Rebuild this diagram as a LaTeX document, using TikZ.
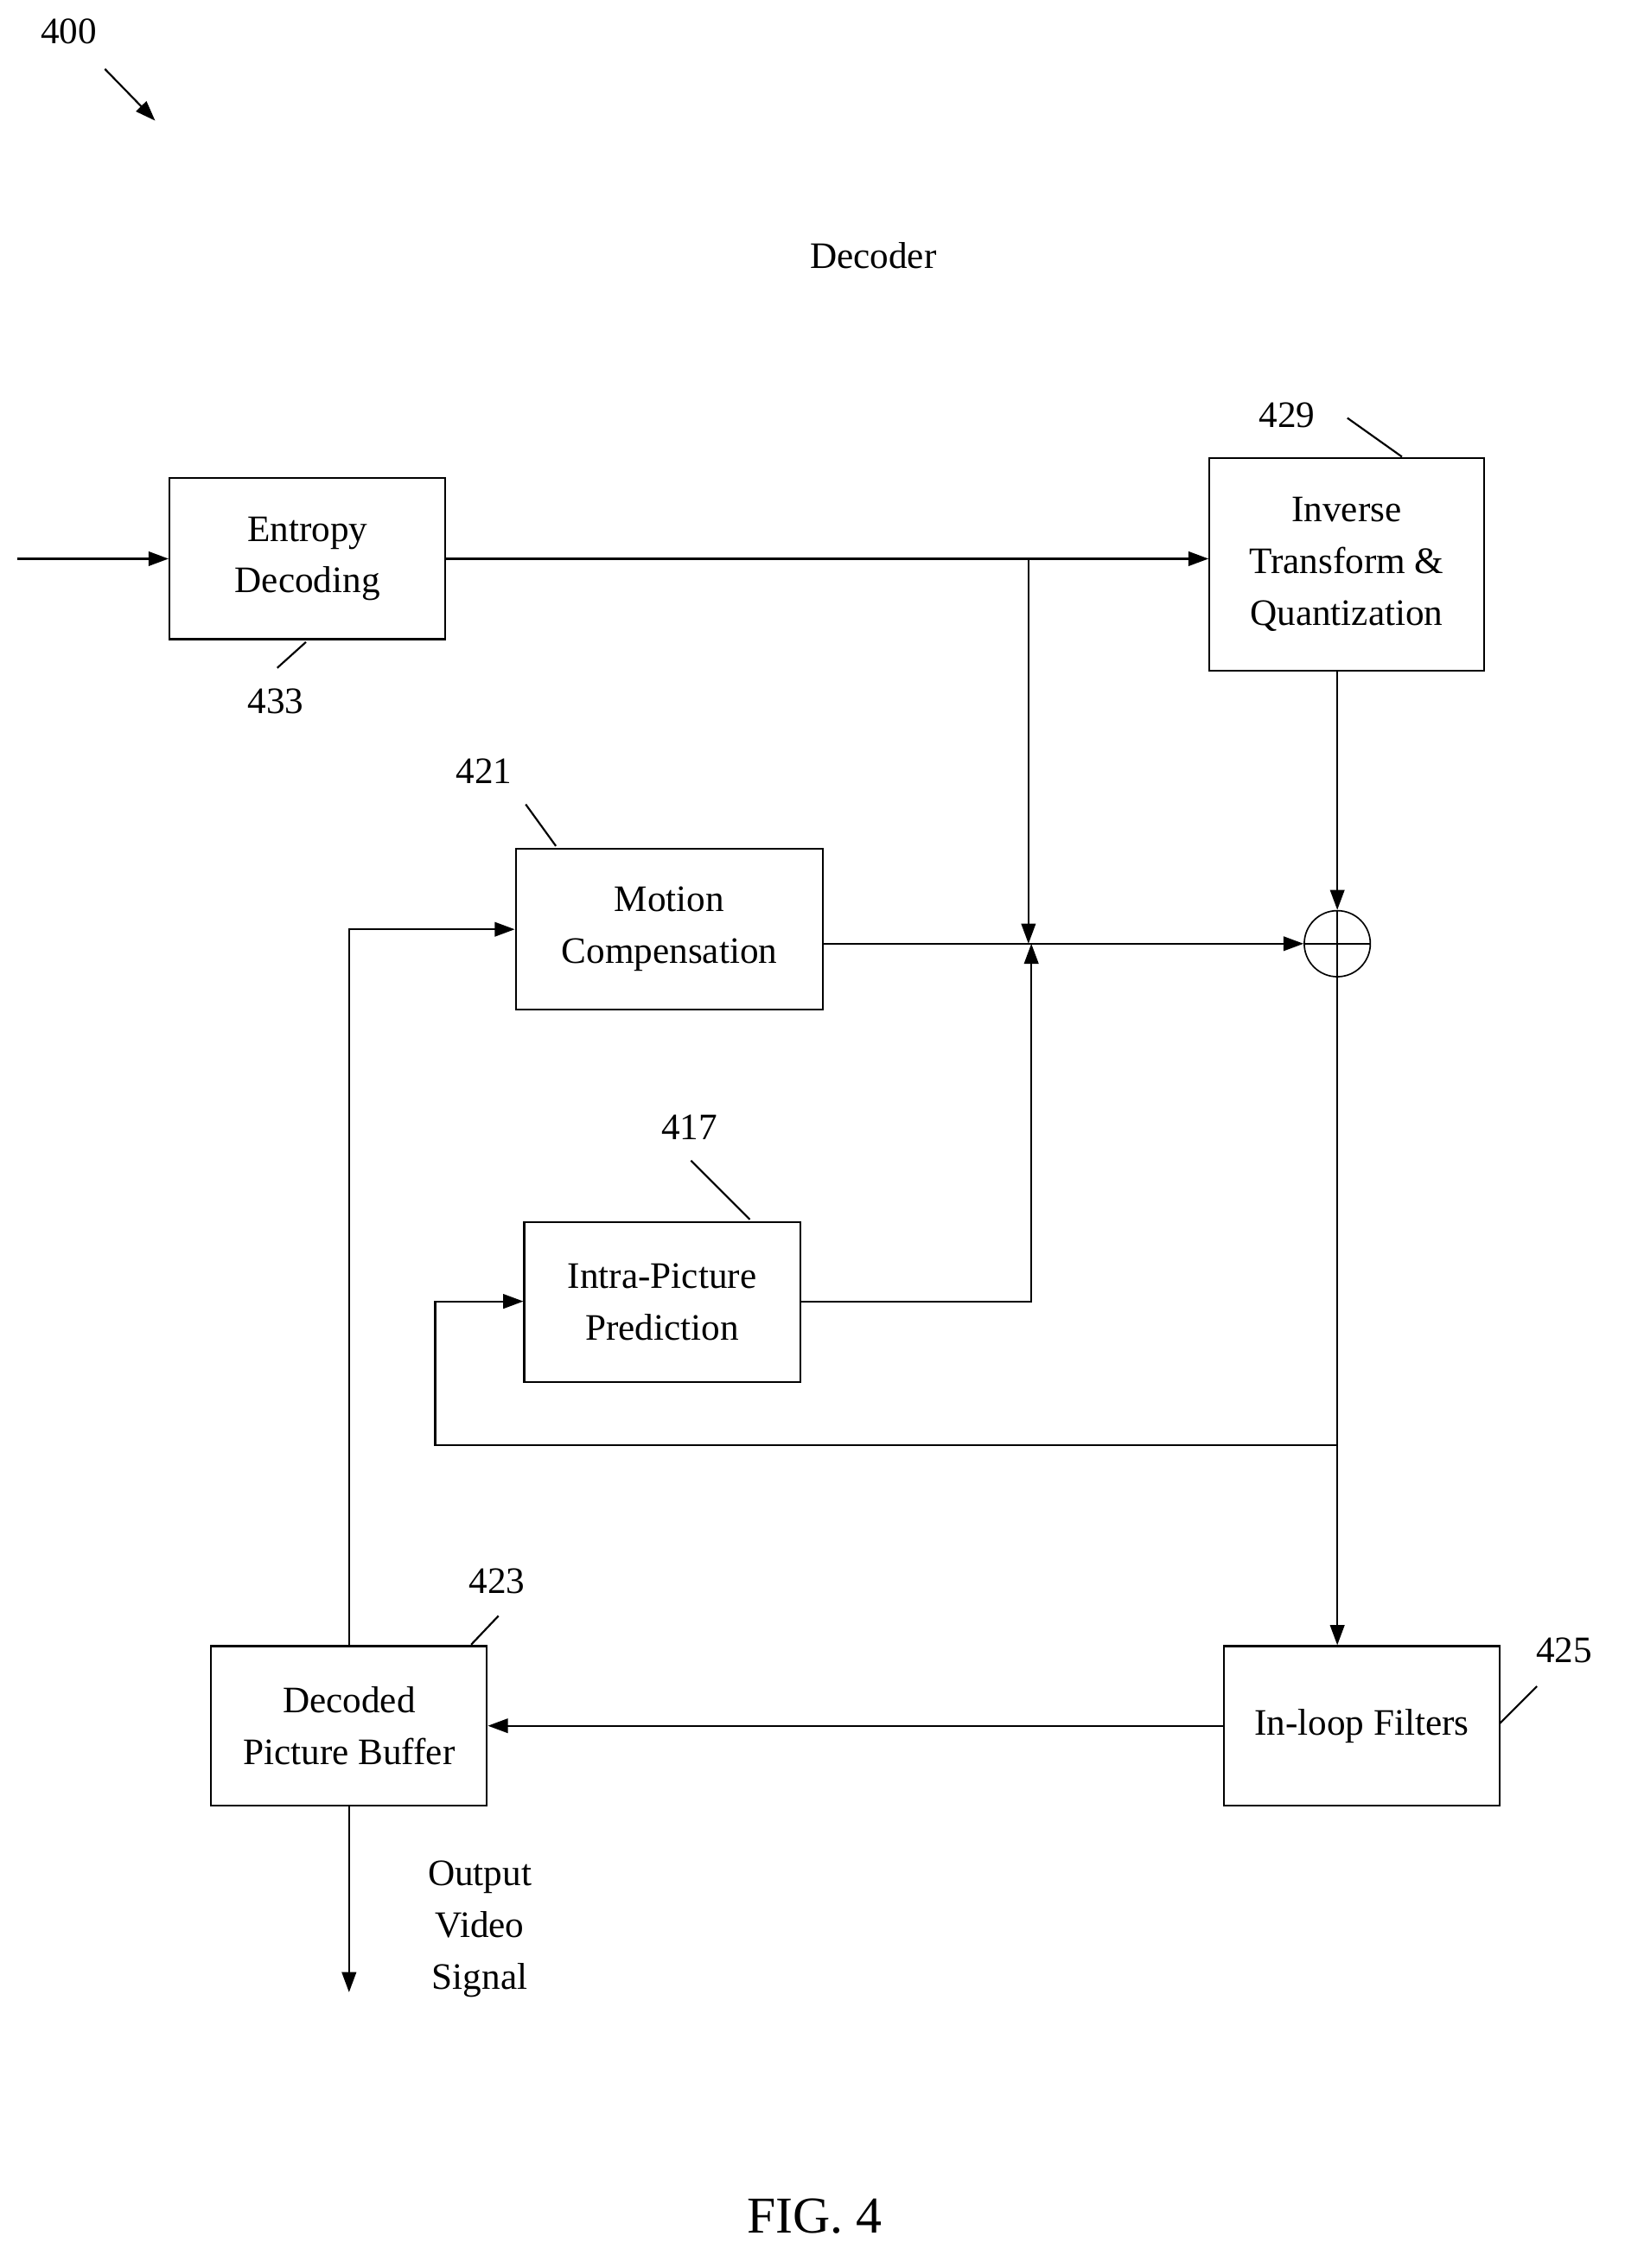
\documentclass[tikz,border=0pt]{standalone}
\usepackage{fontspec}
\setmainfont{Liberation Serif}
\usetikzlibrary{arrows.meta}
\begin{document}
\begin{tikzpicture}[x=1pt,y=-1pt,
  box/.style={draw,line width=1.3pt,inner sep=0pt,align=center,font=\fontsize{26}{36}\selectfont},
  lbl/.style={font=\fontsize{26}{30}\selectfont,inner sep=0pt},
  ln/.style={line width=1.3pt},
  ar/.style={ln,-{Triangle[length=14pt,width=10pt]}}]
\useasboundingbox (0,0) rectangle (1131,1579);
\node[box,minimum width=192pt,minimum height=112pt] (ent) at (214,389) {Entropy\\Decoding};
\node[box,minimum width=191pt,minimum height=148pt] (inv) at (937.5,393) {Inverse\\Transform \&\\Quantization};
\node[box,minimum width=214pt,minimum height=112pt] (mc) at (466,647) {Motion\\Compensation};
\node[box,minimum width=192pt,minimum height=111pt] (ip) at (461,906.5) {Intra-Picture\\Prediction};
\node[box,minimum width=192pt,minimum height=111pt] (ilf) at (948,1201.5) {In-loop Filters};
\node[box,minimum width=192pt,minimum height=111pt] (dpb) at (243,1201.5) {Decoded\\Picture Buffer};
\node[draw,circle,line width=1pt,minimum size=46pt,inner sep=0pt] (add) at (931,657) {};
\draw[line width=1pt] (add.north)--(add.south) (add.west)--(add.east);
\coordinate (in) at (12,389);
\coordinate (j1) at (716,389);
\coordinate (j2) at (716,657);
\coordinate (ipc) at (718,906);
\coordinate (b1) at (931,1006);
\coordinate (b2) at (303,1006);
\coordinate (b3) at (303,906);
\coordinate (d1) at (243,647);
\coordinate (out) at (243,1387);
\draw[ar] (in)--(ent.west);
\draw[ar] (ent.east |- in)--(inv.west |- in);
\draw[ar] (j1)--(j2);
\draw[ar] (mc.east |- j2)--(add.west);
\draw[ar] (ip.east |- ipc)--(ipc)--(718,657);
\draw[ar] (inv.south -| add)--(add.north);
\draw[ar] (add.south)--(ilf.north -| add);
\draw[ar] (b1)--(b2)--(b3)--(ip.west |- b3);
\draw[ar] (ilf.west)--(dpb.east);
\draw[ar] (dpb.north)--(d1)--(mc.west |- d1);
\draw[ar] (dpb.south)--(out);
\node[align=center,font=\fontsize{26}{36}\selectfont] (ovs) at (334,1343) {Output\\Video\\Signal};
\node[lbl] (n400) at (48,22) {400};
\coordinate (a1) at (73,48); \coordinate (a2) at (108,84);
\draw[ar] (a1)--(a2);
\node[lbl] (dec) at (608,178) {Decoder};
\node[lbl] (n429) at (896,289) {429}; \draw[ln] (938,291)--(976,318);
\node[lbl] (n433) at (192,488) {433}; \draw[ln] (193,465)--(213,447);
\node[lbl] (n421) at (337,537) {421}; \draw[ln] (366,560)--(387,589);
\node[lbl] (n417) at (480,785) {417}; \draw[ln] (481,808)--(522,849);
\node[lbl] (n423) at (346,1101) {423}; \draw[ln] (347,1125)--(328,1145);
\node[lbl] (n425) at (1089,1149) {425}; \draw[ln] (1070,1174)--(1044,1200);
\node[font=\fontsize{36}{40}\selectfont,inner sep=0pt] (fig) at (567,1543) {FIG. 4};
\end{tikzpicture}
\end{document}
